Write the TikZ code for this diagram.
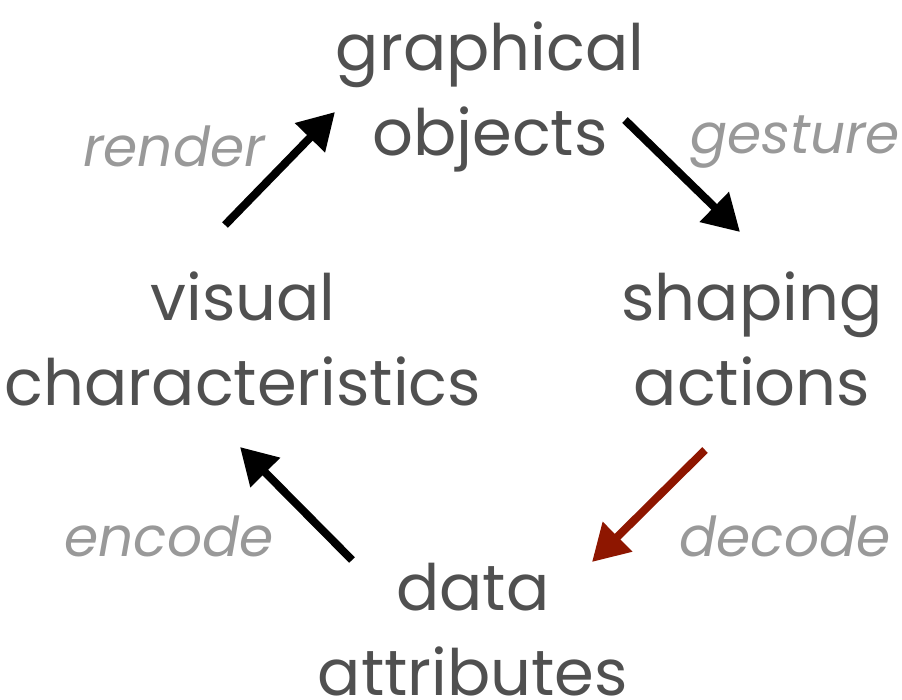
\documentclass[tikz,border=0pt]{standalone}
\usepackage{fontspec}
\setmainfont{Poppins}
\usetikzlibrary{arrows.meta}
\definecolor{maintext}{HTML}{505050}
\definecolor{labeltext}{HTML}{999999}
\definecolor{decodered}{HTML}{8E1600}
\tikzset{
  stage/.style={text=maintext, align=center, anchor=base, inner sep=0pt,
    font=\fontsize{64}{85}\selectfont},
  verb/.style={text=labeltext, anchor=base, inner sep=0pt,
    font=\itshape\fontsize{55}{60}\selectfont},
  flow/.style={line width=8pt, -{Triangle[length=36pt,width=40pt]}},
}
\begin{document}
\begin{tikzpicture}[x=1pt,y=-1pt]
\useasboundingbox (0,0) rectangle (902,699);
% the four stages of the cycle (anchored at the last line's baseline)
\node[stage] (objects) at (490,155) {graphical\\objects};
\node[stage] (actions) at (752,405) {shaping\\actions};
\node[stage] (attributes) at (473,695) {data\\attributes};
\node[stage] (visual) at (243,405) {visual\\characteristics};
% verbs on the transitions
\node[verb] (render) at (174,166) {render};
\node[verb] (gesture) at (795,153) {gesture};
\node[verb] (decode) at (785,556) {decode};
\node[verb] (encode) at (169,556) {encode};
% arrow end points
\coordinate (r0) at (225,225); \coordinate (r1) at (335,112);
\coordinate (g0) at (625,120); \coordinate (g1) at (740,232);
\coordinate (d0) at (705,450); \coordinate (d1) at (592,562);
\coordinate (e0) at (352,560); \coordinate (e1) at (240,447);
\draw[flow] (r0) -- (r1);
\draw[flow] (g0) -- (g1);
\draw[flow, decodered] (d0) -- (d1);
\draw[flow] (e0) -- (e1);
\end{tikzpicture}
\end{document}
